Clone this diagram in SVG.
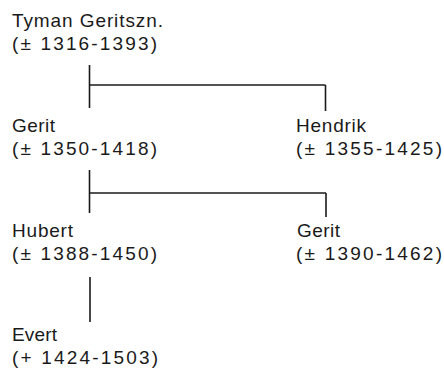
<svg xmlns="http://www.w3.org/2000/svg" width="444" height="369" viewBox="0 0 444 369">
<style>
text{font-family:"Liberation Sans",Arial,sans-serif;font-size:19px;fill:#1a1a1a}
.c line{stroke:#1a1a1a;stroke-width:1.6;fill:none}
</style>
<rect width="444" height="369" fill="#fff"/>
<g class="c" id="connectors">
<line x1="89.5" y1="65" x2="89.5" y2="108"/>
<line x1="89.5" y1="85" x2="325.5" y2="85"/>
<line x1="325.5" y1="85" x2="325.5" y2="111"/>
<line x1="89.5" y1="170" x2="89.5" y2="213"/>
<line x1="89.5" y1="193" x2="326" y2="193"/>
<line x1="326" y1="193" x2="326" y2="217"/>
<line x1="90" y1="277" x2="90" y2="322"/>
</g>
<g id="tyman"><text x="12" y="27" textLength="151" lengthAdjust="spacing">Tyman Geritszn.</text><text x="12" y="50" textLength="145" lengthAdjust="spacing">(± 1316-1393)</text></g>
<g id="gerit1"><text x="12" y="132" textLength="43" lengthAdjust="spacing">Gerit</text><text x="12" y="155" textLength="145" lengthAdjust="spacing">(± 1350-1418)</text></g>
<g id="hendrik"><text x="296" y="132" textLength="70" lengthAdjust="spacing">Hendrik</text><text x="296" y="155" textLength="146" lengthAdjust="spacing">(± 1355-1425)</text></g>
<g id="hubert"><text x="12" y="237" textLength="61" lengthAdjust="spacing">Hubert</text><text x="12" y="260" textLength="145" lengthAdjust="spacing">(± 1388-1450)</text></g>
<g id="gerit2"><text x="297" y="237" textLength="43" lengthAdjust="spacing">Gerit</text><text x="296" y="260" textLength="146" lengthAdjust="spacing">(± 1390-1462)</text></g>
<g id="evert"><text x="12" y="341" textLength="45" lengthAdjust="spacing">Evert</text><text x="12" y="364" textLength="146" lengthAdjust="spacing">(+ 1424-1503)</text></g>
</svg>
